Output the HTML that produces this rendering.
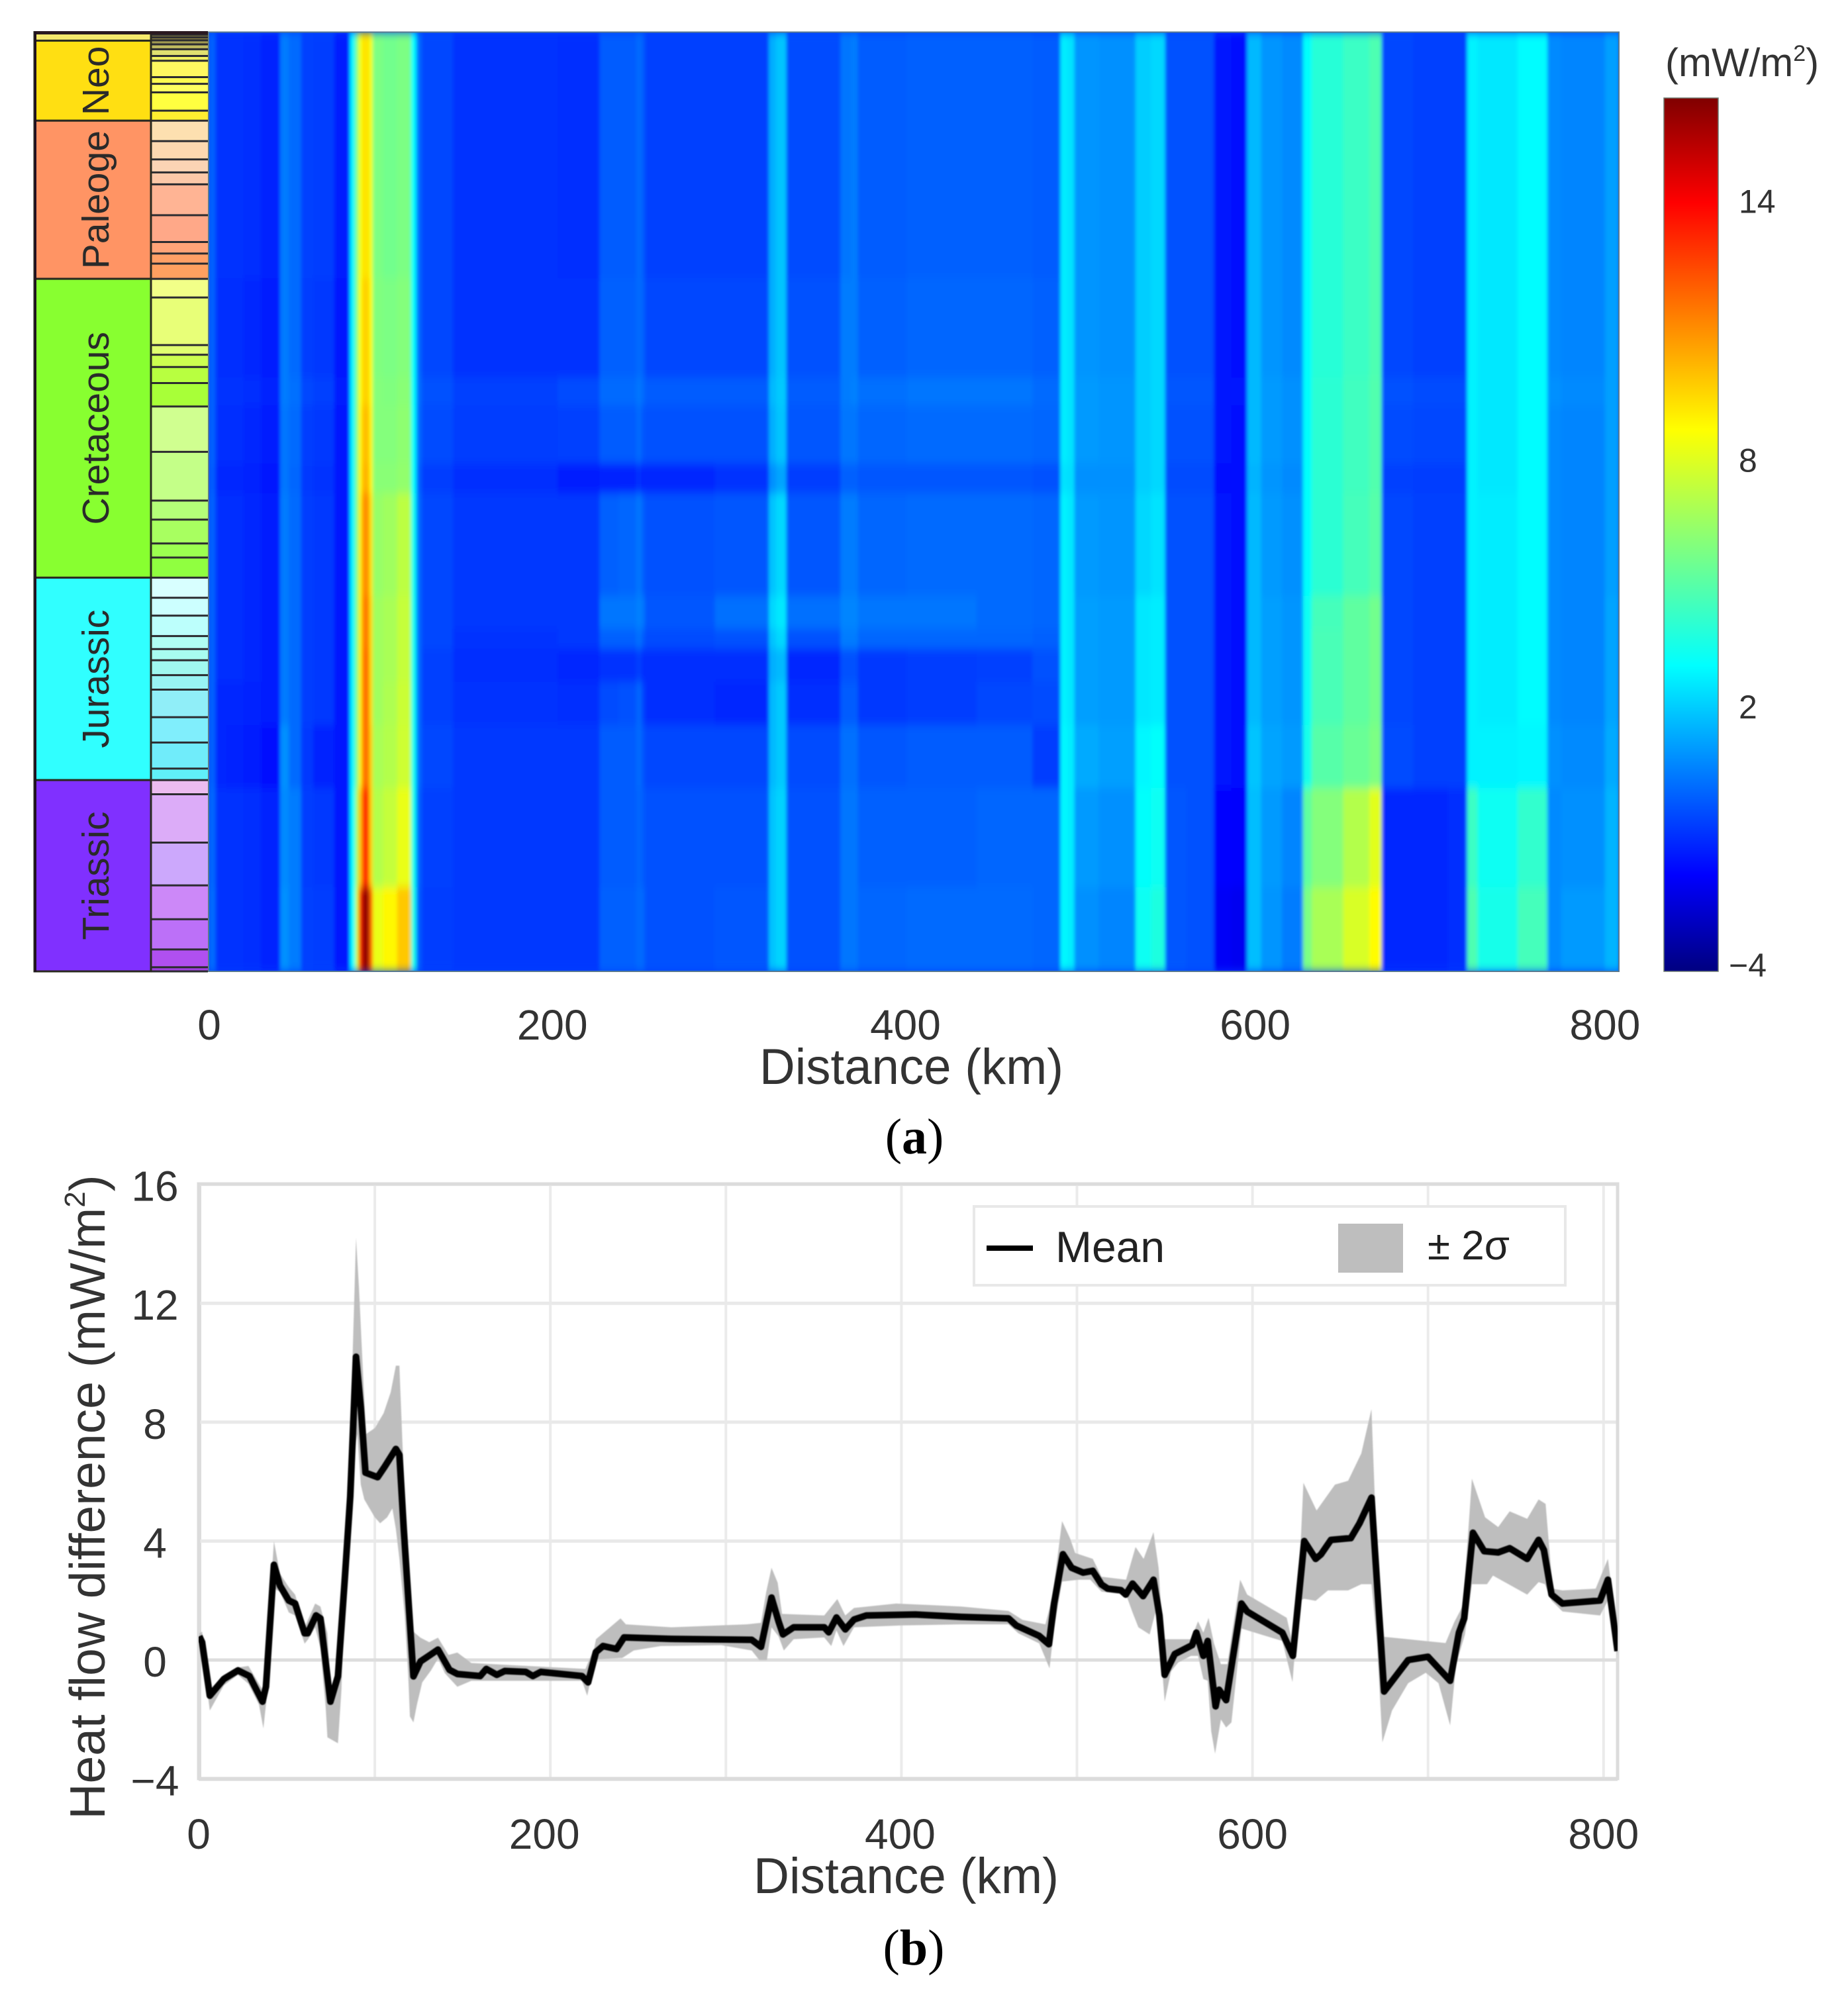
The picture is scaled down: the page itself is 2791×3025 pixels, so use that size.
<!DOCTYPE html>
<html lang="en">
<head>
<meta charset="utf-8">
<title>Heat flow difference through time and along distance</title>
<style>
html,body{margin:0;padding:0;background:#fff;}
svg{display:block;}
text{font-family:"Liberation Sans",Arial,sans-serif;}
</style>
</head>
<body>
<svg id="fig" xmlns="http://www.w3.org/2000/svg" width="2791" height="3025" viewBox="0 0 2791 3025">
  <defs>
    <filter id="soft" x="-2%" y="-2%" width="104%" height="104%"><feGaussianBlur stdDeviation="2.6 7" edgeMode="duplicate"/></filter>
    <filter id="softLine" x="-2%" y="-2%" width="104%" height="104%"><feGaussianBlur stdDeviation="0.9"/></filter>
    <clipPath id="heatClip"><rect x="315" y="48.5" width="2130" height="1418.5"/></clipPath>
    <clipPath id="plotClip"><rect x="300" y="1788" width="2143" height="898"/></clipPath>
    <linearGradient id="jetGrad" x1="0" y1="1" x2="0" y2="0">
      <stop offset="0" stop-color="#000080"/>
      <stop offset="0.11" stop-color="#0000ff"/>
      <stop offset="0.35" stop-color="#00ffff"/>
      <stop offset="0.62" stop-color="#ffff00"/>
      <stop offset="0.88" stop-color="#ff0000"/>
      <stop offset="1" stop-color="#800000"/>
    </linearGradient>
  </defs>
  <rect width="2791" height="3025" fill="#ffffff"/>

  <g id="strat"></g>
  <rect x="315" y="48.5" width="2130" height="1418.5" fill="#0040ff"/>
  <g clip-path="url(#heatClip)"><g id="heat" filter="url(#soft)"></g></g>
  <rect x="315" y="48.5" width="2130" height="1418.5" fill="none" stroke="#5a7a90" stroke-width="2"/>
  <g id="xTicksA"></g>
  <text x="1147" y="1637" font-size="76" fill="#333" textLength="459" lengthAdjust="spacingAndGlyphs">Distance (km)</text>
  <text x="1381" y="1742" font-size="76" text-anchor="middle" fill="#000" style="font-family:'Liberation Serif',serif">(<tspan font-weight="bold">a</tspan>)</text>

  <text x="2515" y="115" font-size="60" fill="#333">(mW/m<tspan font-size="34" dy="-23">2</tspan><tspan dy="23">)</tspan></text>
  <rect x="2513" y="148" width="82" height="1319" fill="url(#jetGrad)" stroke="#6e7a70" stroke-width="1.5"/>
  <g id="cbTicks"></g>

  <g id="grid"></g>
  <g clip-path="url(#plotClip)">
    <path id="band" fill="#bebebe" filter="url(#softLine)"/>
    <path id="meanLine" fill="none" stroke="#000" stroke-width="10" stroke-linejoin="round" stroke-linecap="butt" filter="url(#softLine)"/>
  </g>
  <g id="xTicksB"></g>
  <g id="yTicksB"></g>
  <text x="1138" y="2859" font-size="76" fill="#333" textLength="461" lengthAdjust="spacingAndGlyphs">Distance (km)</text>
  <text transform="translate(158,2261) rotate(-90)" font-size="75" fill="#333" text-anchor="middle">Heat flow difference (mW/m<tspan font-size="44" dy="-30">2</tspan><tspan dy="30">)</tspan></text>
  <text x="1380" y="2967" font-size="76" text-anchor="middle" fill="#000" style="font-family:'Liberation Serif',serif">(<tspan font-weight="bold">b</tspan>)</text>

  <g>
    <rect x="1471" y="1822" width="893" height="119" fill="#fff" stroke="#e8e8e8" stroke-width="4"/>
    <line x1="1490" x2="1560" y1="1885" y2="1885" stroke="#000" stroke-width="8"/>
    <text x="1594" y="1906" font-size="66" fill="#222">Mean</text>
    <rect x="2021" y="1848" width="98" height="74" fill="#bebebe"/>
    <text x="2156" y="1902" font-size="62" fill="#222">± 2σ</text>
  </g>
</svg>

<script>
/* ---------- panel (a): stratigraphy, ages in Ma ---------- */
const eraNames  = ["", "Neo", "Paleoge", "Cretaceous", "Jurassic", "Triassic"];
const eraAges   = [0, 2.3, 23.8, 66.3, 146.6, 201, 252.4];
const eraColors = ["#f6e96c", "#ffdf12", "#ff9464", "#88ff30", "#30ffff", "#8030ff"];

const stageAges = [0,0.7,1.4,2.2,3.3,4.6,6.4,7.7,12.1,13.9,16.2,21.1,23.8,
  29.3,34.2,37.7,40.9,49.2,56.4,59.5,62.2,66.3,
  71.3,84.1,86.7,90,94.3,100.6,112.8,125.9,131,137.4,141.2,146.6,
  152,156.8,162.3,165.8,168.8,172.8,176.7,184.1,190.9,197.9,201,
  204.8,217.8,229.3,238.4,246.5,251.3,252.4];
const stageColors = ["#7a7030","#8a8040","#8a8040","#a09a50","#c0bb60","#e0e070","#f0f060","#fff860","#fdfa50","#ffff60","#ffff40","#ffee30",
  "#fde0b0","#fdd8b0","#fbd4b4","#fcc8a8","#ffb494","#ffa888","#ffa478","#ffa066","#ffa060",
  "#f2ff88","#e8ff78","#e0ff70","#ccff50","#b8ff40","#a8ff38","#d0ff90","#c4ff88","#b4ff78","#a8ff60","#9cff50","#90ff40",
  "#d8ffff","#ccffff","#bcfffc","#b0fff4","#a8fcf0","#a0f8f0","#98f4f4","#90eef8","#80eefc","#70ecfa","#60f0f8",
  "#ecbcf0","#dcacf8","#cca8fc","#cc88f8","#bc70f8","#b050f0","#a040e0"];

/* ---------- panel (a): heat flow difference, mW/m2 ---------- */
const heatKmEdges = [0,4,10,20,30,41,46,53,60,72,81,84,86,88,90,92,94,100,108,116,119,122,140,200,224,235,245,248,250,290,321,325,331,362,368,372,400,440,472,488,492,496,510,531,540,548,560,576,586,595,603,615,627,632,650,665,672,690,710,721,727,750,767,775,800,808];
const heatAgeEdges = [0,66.1,92.8,100.3,115.9,123.9,151.5,160.4,165.7,174.6,186.2,203.1,229.8,252.4];
const heatRows = [
 [0.1,-0.8,-0.8,-0.9,-1.1, 0.6,0.3,-0.5,-0.6,-1.2, 3.0,6.0,8.4,9.2,9.2, 8.4,5.8,5.6,5.8,3.2, 0.3,-0.4,-0.8,-0.9,0.0, 0.0,0.3,0.0,-0.5,-0.5, 1.6,2.0,-0.3,0.5,0.6, 0.0,0.1,0.1,0.0,2.8, 2.6,1.1,1.0,2.2,2.4, -0.2,-0.2,-1.4,-1.5,1.8, 1.1,0.9,3.2,4.0,4.4, 4.8,-0.4,-0.5,-0.5,2.9, 2.7,3.1,0.9,0.8,1.3],
 [0.1,-0.9,-0.9,-1.0,-1.2, 0.6,0.3,-0.6,-0.7,-1.3, 3.0,6.0,8.6,9.6,9.6, 8.6,5.9,5.8,6.0,3.2, 0.3,-0.4,-0.8,-0.8,0.1, 0.1,0.3,0.1,-0.4,-0.4, 1.6,2.0,-0.2,0.6,0.6, 0.1,0.2,0.2,0.1,2.8, 2.6,1.1,1.0,2.2,2.4, -0.2,-0.2,-1.4,-1.5,1.8, 1.1,0.9,3.2,4.0,4.4, 4.8,-0.4,-0.5,-0.5,2.9, 2.7,3.1,0.9,0.8,1.3],
 [0.1,-0.8,-0.8,-0.9,-1.1, 0.6,0.4,-0.4,-0.5,-1.2, 3.0,6.0,8.6,9.6,9.6, 8.6,6.0,5.9,6.1,3.2, 0.4,-0.2,-0.5,-0.3,0.3, 0.3,0.5,0.3,0.0,0.0, 1.8,2.1,0.0,0.6,0.7, 0.4,0.5,0.5,0.3,2.8, 2.6,1.2,1.1,2.2,2.4, -0.1,-0.1,-1.3,-1.4,1.8, 1.2,1.0,3.2,4.1,4.5, 4.9,-0.2,-0.3,-0.3,2.9, 2.7,3.1,1.0,0.9,1.3],
 [0.1,-0.9,-0.9,-1.0,-1.2, 0.5,0.3,-0.6,-0.7,-1.3, 3.0,6.0,8.8,10.0,10.0, 8.8,6.0,6.0,6.2,3.2, 0.3,-0.3,-0.6,-0.5,0.0, 0.0,0.3,-0.1,-0.2,-0.2, 1.6,2.0,-0.1,0.5,0.5, 0.2,0.3,0.3,0.2,2.8, 2.6,1.2,1.1,2.2,2.4, -0.2,-0.2,-1.4,-1.5,1.8, 1.2,1.0,3.2,4.1,4.5, 4.9,-0.3,-0.4,-0.4,2.9, 2.7,3.1,0.9,0.8,1.3],
 [0.0,-1.0,-1.0,-1.1,-1.3, 0.5,0.2,-0.7,-0.8,-1.4, 3.0,6.0,8.8,10.2,10.2, 8.8,6.1,6.1,6.3,3.2, 0.1,-0.6,-0.9,-1.2,-1.1, -1.1,-0.8,-1.1,-1.0,-0.8, 1.0,1.4,-0.6,0.1,0.1, -0.1,-0.1,-0.1,-0.2,2.6, 2.5,1.0,1.0,2.2,2.4, -0.3,-0.3,-1.5,-1.6,1.7, 1.1,0.9,3.2,4.1,4.5, 4.9,-0.5,-0.6,-0.6,2.9, 2.7,3.1,0.9,0.8,1.3],
 [0.1,-0.9,-0.9,-1.0,-1.2, 0.6,0.3,-0.6,-0.7,-1.3, 3.0,6.0,9.0,11.0,11.0, 9.2,6.4,6.6,7.2,3.4, 0.3,-0.4,-0.7,-0.7,0.1, 0.2,0.5,0.1,-0.2,-0.1, 2.0,2.4,-0.1,0.6,0.6, 0.2,0.3,0.3,0.2,2.9, 2.7,1.2,1.1,2.4,2.6, -0.2,-0.2,-1.4,-1.5,1.8, 1.2,1.0,3.2,4.1,4.6, 5.0,-0.4,-0.5,-0.5,2.9, 2.8,3.1,0.9,0.8,1.3],
 [0.1,-0.9,-0.9,-1.0,-1.2, 0.6,0.3,-0.6,-0.7,-1.3, 3.0,6.0,9.0,11.4,11.4, 9.4,6.6,6.8,7.4,3.4, 0.3,-0.4,-0.7,-0.7,0.5, 0.5,0.7,0.5,-0.1,0.4, 2.4,2.7,0.4,0.8,0.8, 0.5,0.5,0.3,0.2,2.9, 2.7,1.3,1.2,2.7,2.8, -0.2,-0.2,-1.4,-1.5,1.8, 1.3,1.1,3.4,4.6,5.2, 5.6,-0.4,-0.5,-0.5,2.9, 2.8,3.1,0.9,0.8,1.4],
 [0.1,-0.9,-0.9,-1.0,-1.2, 0.6,0.3,-0.6,-0.7,-1.3, 3.0,6.0,9.0,11.4,11.4, 9.4,6.6,6.8,7.4,3.4, 0.3,-0.4,-0.8,-0.7,0.1, 0.1,0.4,0.0,-0.3,-0.2, 2.0,2.4,-0.2,0.6,0.6, 0.2,0.2,0.2,0.1,2.9, 2.7,1.3,1.2,2.7,2.8, -0.2,-0.2,-1.4,-1.5,1.8, 1.3,1.1,3.4,4.7,5.2, 5.6,-0.4,-0.5,-0.5,2.9, 2.8,3.1,0.9,0.8,1.4],
 [0.1,-0.9,-0.9,-1.0,-1.2, 0.6,0.3,-0.6,-0.7,-1.3, 3.0,6.0,9.0,11.6,11.6, 9.4,6.6,6.8,7.4,3.4, 0.3,-0.5,-0.9,-1.0,-0.8, -0.8,-0.5,-0.9,-0.9,-0.9, 1.6,1.8,-1.0,-0.2,-0.2, -0.7,-0.6,-0.5,-0.2,2.9, 2.7,1.3,1.2,2.7,2.8, -0.2,-0.2,-1.4,-1.5,1.8, 1.3,1.1,3.4,4.7,5.2, 5.6,-0.4,-0.5,-0.5,2.9, 2.8,3.1,0.9,0.8,1.4],
 [0.1,-1.0,-1.0,-1.1,-1.2, 0.6,0.3,-0.6,-0.7,-1.3, 3.0,6.0,9.0,11.6,11.6, 9.4,6.6,6.9,7.5,3.4, 0.3,-0.5,-0.8,-0.9,-0.3, -0.2,0.2,-0.4,-0.9,-1.0, 1.8,2.1,-0.9,0.0,0.0, -0.7,-0.6,-0.4,-0.3,2.9, 2.7,1.3,1.2,2.7,2.8, -0.2,-0.2,-1.4,-1.5,1.8, 1.3,1.1,3.4,4.7,5.2, 5.6,-0.4,-0.5,-0.5,2.9, 2.8,3.1,0.9,0.8,1.4],
 [0.1,-1.0,-1.1,-1.2,-1.5, 1.0,0.3,-0.7,-1.1,-1.4, 3.0,6.0,9.0,11.6,11.6, 9.6,6.8,7.0,7.6,3.4, 0.3,-0.4,-0.7,-0.7,0.0, 0.0,0.3,-0.1,-0.4,-0.4, 1.8,2.1,-0.3,0.4,0.4, -0.1,0.0,0.0,-0.6,3.0, 2.8,1.5,1.3,3.0,3.2, -0.2,-0.2,-1.4,-1.5,2.0, 1.4,1.2,3.6,5.0,5.4, 5.8,-0.3,-0.5,-0.5,2.9, 2.9,3.0,1.0,0.9,1.5],
 [0.2,-0.8,-0.8,-0.9,-1.1, 0.9,0.6,-0.6,-0.7,-1.4, 3.2,6.8,10,13,13, 9.6,7.0,7.4,8.2,3.5, 0.1,-0.5,-0.7,-0.7,0.0, 0.0,0.2,0.0,-0.2,-0.2, 2.0,2.3,-0.2,0.5,0.5, 0.1,0.1,0.2,0.2,3.0, 2.8,1.2,1.0,3.2,3.4, -0.1,-0.2,-1.7,-1.8,1.9, 1.2,0.8,5.2,6.0,7.0, 8.0,-1.0,-1.0,-0.9,4.4, 3.4,4.2,0.9,1.0,1.7],
 [0.3,-0.8,-0.8,-0.9,-1.1, 1.0,0.6,-0.5,-0.6,-1.4, 3.2,7.5,13,16,16, 12,8.2,8.8,9.8,3.6, 0.0,-0.6,-0.7,-0.7,0.1, 0.1,0.3,0.2,-0.2,-0.1, 2.0,2.3,-0.2,0.5,0.5, 0.2,0.3,0.3,0.2,3.0, 2.8,1.0,0.8,3.4,3.8, -0.1,-0.2,-1.9,-2.0,1.9, 1.1,0.6,5.8,6.8,7.8, 8.7,-1.0,-1.0,-0.9,4.8, 3.6,4.6,0.9,1.2,1.7]
];
const xTickValues = [0,200,400,600,800];
const xTickTextA = ["0","200","400","600","800"];
const cbTickValues = [14,8,2,-4];
const cbTickText = ["14","8","2","−4"];

/* ---------- panel (b): profile series ---------- */
const meanKm = [0,1.6,6,14,22,28.5,36,38,42.5,46,51,54.6,60,61.7,66.5,69,74.7,79,82.8,86,89.3,92,94.7,101.6,105.6,112,114,116.5,122,126,131.5,136,142.5,147,160,163.5,169.5,174,186,190,194.5,218,221.5,226,230,237.7,242,269,314.7,320,326,330,332.5,338.6,356,358.6,363,368,373,380,408,434,461,465.5,478.5,484,487,492,497,503.5,509,514,517.5,525,527.8,531.7,537.7,543.6,547,550,555.7,565.6,568,572,574.5,579,581,585,593.7,597,617,623,629.5,636,639,644.7,656,661,667.8,675,688.7,700,712.6,717.6,720.6,725.6,732,740,746.5,756.5,763,766,770.4,776.6,798,802.5,805.5,808];
const meanVal = [0.8,0.6,-1.2,-0.64,-0.35,-0.54,-1.4,-0.9,3.2,2.5,2.0,1.9,0.9,0.9,1.5,1.4,-1.4,-0.55,2.65,5.5,10.2,8.5,6.3,6.15,6.5,7.1,6.9,4.4,-0.55,-0.05,0.17,0.35,-0.33,-0.47,-0.54,-0.3,-0.5,-0.37,-0.4,-0.54,-0.4,-0.54,-0.75,0.27,0.47,0.37,0.76,0.71,0.68,0.44,2.1,1.3,0.86,1.1,1.1,0.93,1.43,1.03,1.36,1.5,1.53,1.45,1.4,1.16,0.81,0.53,1.9,3.56,3.1,2.94,3.0,2.54,2.4,2.35,2.2,2.57,2.15,2.7,1.5,-0.5,0.2,0.5,0.92,0.14,0.64,-1.56,-1,-1.35,1.9,1.63,0.92,0.14,4.0,3.4,3.55,4.04,4.1,4.6,5.46,-1.06,0,0.11,-0.7,0.92,1.4,4.28,3.66,3.62,3.76,3.4,4.04,3.7,2.2,1.9,2,2.7,1.4,0.3];

const upperKm = [0,1.6,6,14,22,28,36,38,42.5,46,51,54.6,60,66,69,73,74.7,79,82.8,86,89.3,91,93,95,100,105,109,112,114,116,118,121,126,131,136,142,147,155,220,225,226,240,243,269,312,320,323,326,329.5,332,356,363.5,368,373,397,434,461,469,482,486,491.5,496,499,509,514,528,533.4,538,543.6,546.5,549,554.5,565,569,572,575,578,582,585.7,593,597,619.5,622.8,626,629,636.5,647,654.5,662,667.8,671,675,688.7,710,715,720,725,732.5,740,746.5,756.5,763,767,771,776.6,795.5,802.5,805.5,808];
const upperVal = [0.9,0.95,-1,-0.5,-0.25,-0.2,-1,-0.2,4,2.9,2.45,2.2,1.1,1.9,1.8,0.9,-1,-0.2,3.8,7.5,14.2,12.5,10,7.6,7.8,8.3,9,9.9,9.9,6.9,4,1,0.75,0.6,0.75,0.17,0.25,-0.1,-0.3,0.4,0.7,1.4,1.2,1.1,1.2,1.25,2.3,3.1,2.6,1.55,1.5,2.05,1.5,1.75,1.9,1.8,1.65,1.35,1.2,2.1,4.67,4.1,3.6,3.4,2.8,2.7,3.8,3.4,4.3,3.1,0.7,0.7,0.7,1.3,0.92,1.42,0.57,-0.14,-0.14,2.7,2.2,1.42,0.57,2,5.96,5.03,5.9,6.03,6.95,8.44,3.4,0.78,0.7,0.57,1.28,1.84,6.1,4.8,4.47,5,4.75,5.4,5.25,2.4,2.34,2.4,3.4,2,0.57];

const lowerKm = [0,1.6,6,14,22,28,34,36.5,38,41,42.5,46,51,54.6,58,60,62,66,69,72,73,76,79,81,83,84.5,86,88,90,92,94,97,100,103,107,110,112,114,117,119,120,122,124,127,132,136,140,147,155,218,221,224,226,241,247.5,263,297.4,314.7,319,323.4,326,330,333,338.6,356,360,363,367,373,399,434,461,466.6,478.5,484.4,487,491.5,501,507.6,514,528,531.7,535,541.4,544.7,548,550,553.6,557.7,565,569,572,574.5,576.5,578.7,582,585,588,593.7,617,622.8,626.5,629.5,636,643,654.5,662,667.8,671,674,679.5,688.7,698.7,706,712.6,716,721,725,733.6,737,756.5,763,766.6,770.4,776.6,798,802.5,805.5,808];
const lowerVal = [0.7,0.3,-1.7,-0.85,-0.5,-0.8,-1.5,-2.3,-1.5,1.2,2.4,2.3,1.6,1.5,0.9,0.55,0.7,1.1,0.4,-1.6,-2.6,-2.7,-2.8,-1,3.2,3,5,7,7.6,5.9,5.4,5.1,4.8,4.6,4.8,5.1,4.4,3.4,1.5,-0.5,-1.9,-2.1,-1.5,-0.75,-0.35,0.05,-0.45,-0.9,-0.7,-0.7,-1.2,-0.4,0.02,0.07,0.32,0.47,0.5,0.32,0,0,1.1,0.8,0.32,0.7,0.76,0.47,1,0.47,1.1,1.16,1.2,1.2,0.9,0.56,-0.28,1.1,2.64,2.7,2.7,2.3,2.2,1.6,1.1,0.86,1.6,0.12,-1.4,-0.38,-0.08,0.14,0.14,-0.64,-0.7,-2.4,-3.15,-2,-2.27,-2.1,1.06,0.64,-0.74,2,2.06,1.99,2.34,2.34,2.55,2.55,0.57,-2.77,-1.7,-0.78,-0.43,-0.78,-2.2,-0.14,0.85,2.55,2.55,2.84,2.2,2.62,2.55,2,1.63,1.5,2,1.13,0.14];

const gridKm = [0,100,200,300,400,500,600,700,800];
const gridVal = [-4,0,4,8,12,16];
const xTickTextB = ["0","200","400","600","800"];
const yTickValues = [16,12,8,4,0,-4];
const yTickText = ["16","12","8","4","0","−4"];

/* ---------- scales ---------- */
const NS = "http://www.w3.org/2000/svg";
function heatX(km){ return 315 + km * 2130 / 808; }
function ageY(ma){ return 48.5 + ma * 5.62; }
function cbY(v){ return 1457 - (v + 4) * 64.3; }
function profX(km){ return 301 + km * 2.651; }
function profY(v){ return 2507 - v * 44.9; }

function jet(v){
  const f = Math.max(0, Math.min(1, (v + 4) / 20.4));
  const s = [[0,0,0,128],[0.11,0,0,255],[0.35,0,255,255],[0.62,255,255,0],[0.88,255,0,0],[1,128,0,0]];
  for (let i = 1; i < s.length; i++) {
    if (f <= s[i][0]) {
      const t = (f - s[i-1][0]) / (s[i][0] - s[i-1][0]);
      const c = [1,2,3].map(k => Math.round(s[i-1][k] + t * (s[i][k] - s[i-1][k])));
      return "rgb(" + c.join(",") + ")";
    }
  }
  return "rgb(128,0,0)";
}
function make(tag, parent, attrs){
  const el = document.createElementNS(NS, tag);
  for (const k in attrs) el.setAttribute(k, attrs[k]);
  parent.appendChild(el);
  return el;
}

/* ---------- stratigraphic column ---------- */
const strat = document.getElementById("strat");
stageColors.forEach((c, i) => {
  const y0 = ageY(stageAges[i]), y1 = ageY(stageAges[i+1]);
  const el = make("rect", strat, {x:228, y:y0, width:86, height:y1 - y0, fill:c});
  
  
});
stageAges.forEach(a => {
  const el = make("line", strat, {x1:228, x2:314, y1:ageY(a), y2:ageY(a), stroke:"#2c2c30", "stroke-width":3});
  
  
});
eraColors.forEach((c, i) => {
  const y0 = ageY(eraAges[i]), y1 = ageY(eraAges[i+1]);
  const el = make("rect", strat, {x:52, y:y0, width:176, height:y1 - y0, fill:c, stroke:"#2a2a20", "stroke-width":3});
  
  
  if (eraNames[i]) {
    const t = make("text", strat, {transform:"translate(164," + (y0 + y1) / 2 + ") rotate(-90)", "font-size":57, fill:"#2a2a2a", "text-anchor":"middle"});
    t.textContent = eraNames[i];
    
    
  }
});
const stratTop = make("rect", strat, {x:52, y:47, width:262, height:5, fill:"#2a1a20"});


const stratLeft = make("rect", strat, {x:52, y:48, width:3, height:1420, fill:"#201020"});



/* ---------- heatmap cells ---------- */
const heat = document.getElementById("heat");
heatRows.forEach((row, r) => {
  const y0 = ageY(heatAgeEdges[r]), y1 = ageY(heatAgeEdges[r+1]);
  row.forEach((v, c) => {
    const x0 = heatX(heatKmEdges[c]), x1 = heatX(heatKmEdges[c+1]);
    const cell = make("rect", heat, {x:x0, y:y0, width:x1 - x0 + 0.6, height:y1 - y0 + 0.6, fill:jet(v)});
    
    
  });
});

/* ---------- tick labels ---------- */
const xLabelNudgeA = [1,-8,-2,-1,0];
const xLabelNudgeB = [-1,-9,-2,0,0];
const cbLabelNudge = [4,9,-4,0];
const xTicksA = document.getElementById("xTicksA");
xTickValues.forEach((v, i) => {
  const t = make("text", xTicksA, {x:heatX(v) + xLabelNudgeA[i], y:1570, "font-size":64, fill:"#333", "text-anchor":"middle"});
  t.textContent = xTickTextA[i];
  
  
});
const cbTicks = document.getElementById("cbTicks");
cbTickValues.forEach((v, i) => {
  const t = make("text", cbTicks, {x:v < 0 ? 2611 : 2626, y:cbY(v) + 18 + cbLabelNudge[i], "font-size":50, fill:"#333"});
  t.textContent = cbTickText[i];
  
  
});

/* ---------- profile plot ---------- */
const grid = document.getElementById("grid");
gridKm.forEach(k => {
  const l = make("line", grid, {x1:profX(k), x2:profX(k), y1:1788, y2:2686, stroke:k === 0 ? "#dddddd" : "#ebebeb", "stroke-width":k === 0 ? 6 : 4});
  
  
});
gridVal.forEach(v => {
  const l = make("line", grid, {x1:300, x2:2443, y1:profY(v), y2:profY(v), stroke:(v === -4 || v === 0) ? "#dddddd" : "#e9e9e9", "stroke-width":v === -4 ? 6 : 5});
  
  
});
const frame = make("rect", grid, {x:300, y:1788, width:2143, height:898, fill:"none", stroke:"#dcdcdc", "stroke-width":5});



const upperPts = upperKm.map((k, i) => profX(k).toFixed(1) + "," + profY(upperVal[i]).toFixed(1));
const lowerPts = lowerKm.map((k, i) => profX(k).toFixed(1) + "," + profY(lowerVal[i]).toFixed(1)).reverse();
document.getElementById("band").setAttribute("d", "M" + upperPts.concat(lowerPts).join("L") + "Z");
document.getElementById("meanLine").setAttribute("d", "M" + meanKm.map((k, i) => profX(k).toFixed(1) + "," + profY(meanVal[i]).toFixed(1)).join("L"));

const xTicksB = document.getElementById("xTicksB");
xTickValues.forEach((v, i) => {
  const t = make("text", xTicksB, {x:profX(v) + xLabelNudgeB[i], y:2792, "font-size":64, fill:"#333", "text-anchor":"middle"});
  t.textContent = xTickTextB[i];
  
  
});
const yTicksB = document.getElementById("yTicksB");
yTickValues.forEach((v, i) => {
  const t = make("text", yTicksB, {x:234, y:profY(v) + 25, "font-size":64, fill:"#333", "text-anchor":"middle"});
  t.textContent = yTickText[i];
  
  
});
</script>
</body>
</html>
